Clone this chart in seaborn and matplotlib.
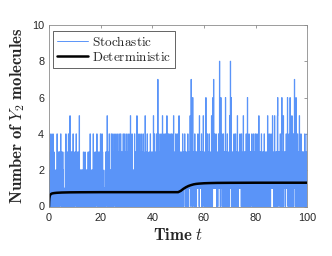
import numpy as np
import pandas as pd
import matplotlib
matplotlib.use("Agg")
import matplotlib.pyplot as plt
import seaborn as sns

# ---- data (stochastic trace, one digit = one sample) ----
# each segment covers 10 time units
stoch_segments = [
    # t 0-10
    "0102031402" "1302041203" "0212012102" "1402031203" "0312140213"
    "0213020101" "0103140213" "0213041302" "1502130312" "0314020213",
    # t 10-20
    "0213140203" "1203021502" "0212021202" "1203120213" "0212021202"
    "1302130214" "0212012102" "1403021203" "0213140312" "0302130214",
    # t 20-30
    "0312041302" "1010101203" "0213150213" "0214021202" "1403021403"
    "0213140213" "0214031302" "1402130413" "0213021403" "0314021302",
    # t 30-40
    "1402130214" "0213150213" "0412021202" "1402130312" "5021302140"
    "2130214021" "3021403120" "2150213021" "4031202130" "2140213021",
    # t 40-50
    "3021502140" "2130214021" "3702140213" "0214031205" "0212041202"
    "1403025021" "3041302140" "2130413021" "4050213021" "4031204130",
    # t 50-60
    "2135031302" "1302130413" "0213142031" "3021302413" "0312135130"
    "7131306131" "3021402313" "0231314231" "3051213231" "4031302513",
    # t 60-70
    "3021302613" "0314031302" "4130213025" "1302613714" "2131324130"
    "3120314213" "8130362314" "0213042313" "0316031302" "4130213025",
    # t 70-80
    "1381360213" "0231304130" "2140313025" "1302131324" "1312041302"
    "1250213031" "3024130261" "3021402313" "0313140230" "3140213024",
    # t 80-90
    "1302140313" "0251302130" "3140213023" "1304130213" "0312025130"
    "3140213024" "1313251312" "0315021302" "3130562313" "0213140302",
    # t 90-100
    "4613021502" "3131203142" "3136103214" "0316031302" "5130314023"
    "7131406130" "3140213025" "1302140313" "0231302130" "4130213024",
]
segment_span = 10.0

det_t = [0, 0.05, 0.15, 0.3, 0.5, 0.8, 1.2, 2, 3, 5, 8, 12, 20, 30, 50,
         51, 52, 53, 54, 55, 56, 57, 58, 60, 62, 65, 70, 80, 100]
det_y = [0, 0.25, 0.45, 0.58, 0.65, 0.69, 0.72, 0.74, 0.755, 0.77, 0.78, 0.785,
         0.79, 0.79, 0.79, 0.86, 0.97, 1.06, 1.13, 1.18, 1.22, 1.245, 1.26,
         1.28, 1.29, 1.30, 1.305, 1.31, 1.31]

x_ticks = [0, 20, 40, 60, 80, 100]
y_ticks = [0, 2, 4, 6, 8, 10]

label_stoch = r"$\mathrm{Stochastic}$"
label_det = r"$\mathrm{Deterministic}$"
x_label = r"$\mathbf{Time}\ t$"
y_label = r"$\mathbf{Number\ of}\ Y_{\mathbf{2}}\ \mathbf{molecules}$"

# ---- build tables ----
st_t, st_n = [], []
for k, seg in enumerate(stoch_segments):
    n = len(seg)
    for j, ch in enumerate(seg):
        st_t.append(k * segment_span + j * segment_span / n)
        st_n.append(int(ch))
st_t.append(100.0)
st_n.append(st_n[-1])
stoch_df = pd.DataFrame({"t": st_t, "n": st_n})
det_df = pd.DataFrame({"t": det_t, "y": det_y})

# ---- style ----
sns.set_style("white")
plt.rcParams["font.family"] = ["Liberation Sans", "DejaVu Sans"]
plt.rcParams["mathtext.fontset"] = "cm"
plt.rcParams["path.simplify"] = False

W, H = 332, 256
fig = plt.figure(figsize=(W / 100, H / 100), dpi=100)
L, R, T, B = 49, 307.3, 25, 206.5
ax = fig.add_axes([L / W, 1 - B / H, (R - L) / W, (B - T) / H])

sns.lineplot(data=stoch_df, x="t", y="n", ax=ax, estimator=None, sort=False,
             drawstyle="steps-post", color="#5A94F8", linewidth=0.8,
             label=label_stoch)
sns.lineplot(data=det_df, x="t", y="y", ax=ax, estimator=None, sort=False,
             color="black", linewidth=1.8, label=label_det)
ax.get_lines()[0].set_snap(False)

ax.set_xlim(0, 100)
ax.set_ylim(0, 10)
ax.set_xticks(x_ticks)
ax.set_yticks(y_ticks)
ax.tick_params(direction="in", top=True, right=True, length=2.5, width=0.5,
               color="0.45", labelsize=7.8, labelcolor="#262626")
ax.tick_params(axis="x", pad=4.5)
ax.tick_params(axis="y", pad=3.5)
for sp in ax.spines.values():
    sp.set_color("0.55")
    sp.set_linewidth(0.6)

ax.set_xlabel(x_label, fontsize=12, color="#262626", va="center")
ax.set_ylabel(y_label, fontsize=12, color="#262626", va="center")
ax.xaxis.set_label_coords(0.5, -0.157)
ax.yaxis.set_label_coords(-0.122, 0.499)

leg = ax.legend(loc="upper left", bbox_to_anchor=(0.015, 0.967), frameon=True,
                fancybox=False, edgecolor="0.15", framealpha=1, fontsize=9.5,
                handlelength=2.4, borderpad=0.3, labelspacing=0.15,
                handletextpad=0.3, borderaxespad=0)
leg.get_frame().set_linewidth(0.5)
leg.get_lines()[0].set_linewidth(0.7)

fig.savefig("out.png", dpi=100)
